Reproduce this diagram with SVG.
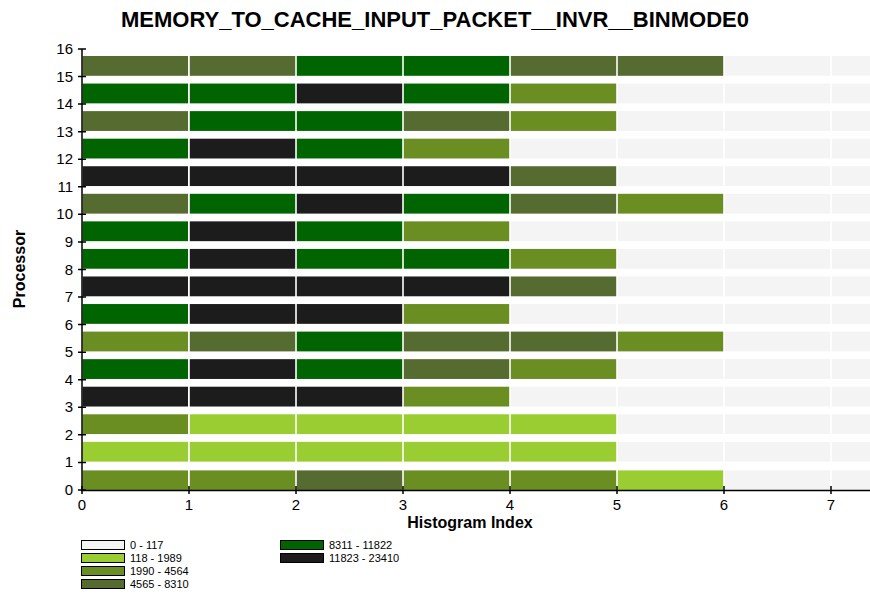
<svg xmlns="http://www.w3.org/2000/svg" width="870" height="594" viewBox="0 0 870 594">
<style>
text{font-family:"Liberation Sans",Arial,sans-serif;fill:#000}
.t{font-size:22px;font-weight:bold}
.lab{font-size:16px;font-weight:bold}
.tk{font-size:15px}
.lg{font-size:11px}
.c0{fill:#f4f4f4}.c1{fill:#9acd32}.c2{fill:#6b8e23}.c3{fill:#556b2f}.c4{fill:#006400}.c5{fill:#1c1c1c}
.ax{stroke:#000;stroke-width:1.5;fill:none}
.lb{stroke:#000;stroke-width:1}
</style>
<defs>
<rect id="cell" width="105.4" height="19.8"/>
</defs>
<rect width="870" height="594" fill="#fff"/>
<text class="t" x="435" y="27" text-anchor="middle">MEMORY_TO_CACHE_INPUT_PACKET__INVR__BINMODE0</text>
<g id="bars">
<!-- row 15 y=56 -->
<g id="row15" transform="translate(0,56)">
<use href="#cell" x="82.6" class="c3"/><use href="#cell" x="189.8" class="c3"/><use href="#cell" x="296.8" class="c4"/><use href="#cell" x="403.8" class="c4"/><use href="#cell" x="510.8" class="c3"/><use href="#cell" x="617.8" class="c3"/><use href="#cell" x="724.8" class="c0"/><rect x="831.8" width="38.2" height="19.8" class="c0"/>
</g>
<g id="row14" transform="translate(0,83.56)">
<use href="#cell" x="82.6" class="c4"/><use href="#cell" x="189.8" class="c4"/><use href="#cell" x="296.8" class="c5"/><use href="#cell" x="403.8" class="c4"/><use href="#cell" x="510.8" class="c2"/><use href="#cell" x="617.8" class="c0"/><use href="#cell" x="724.8" class="c0"/><rect x="831.8" width="38.2" height="19.8" class="c0"/>
</g>
<g id="row13" transform="translate(0,111.12)">
<use href="#cell" x="82.6" class="c3"/><use href="#cell" x="189.8" class="c4"/><use href="#cell" x="296.8" class="c4"/><use href="#cell" x="403.8" class="c3"/><use href="#cell" x="510.8" class="c2"/><use href="#cell" x="617.8" class="c0"/><use href="#cell" x="724.8" class="c0"/><rect x="831.8" width="38.2" height="19.8" class="c0"/>
</g>
<g id="row12" transform="translate(0,138.68)">
<use href="#cell" x="82.6" class="c4"/><use href="#cell" x="189.8" class="c5"/><use href="#cell" x="296.8" class="c4"/><use href="#cell" x="403.8" class="c2"/><use href="#cell" x="510.8" class="c0"/><use href="#cell" x="617.8" class="c0"/><use href="#cell" x="724.8" class="c0"/><rect x="831.8" width="38.2" height="19.8" class="c0"/>
</g>
<g id="row11" transform="translate(0,166.24)">
<use href="#cell" x="82.6" class="c5"/><use href="#cell" x="189.8" class="c5"/><use href="#cell" x="296.8" class="c5"/><use href="#cell" x="403.8" class="c5"/><use href="#cell" x="510.8" class="c3"/><use href="#cell" x="617.8" class="c0"/><use href="#cell" x="724.8" class="c0"/><rect x="831.8" width="38.2" height="19.8" class="c0"/>
</g>
<g id="row10" transform="translate(0,193.8)">
<use href="#cell" x="82.6" class="c3"/><use href="#cell" x="189.8" class="c4"/><use href="#cell" x="296.8" class="c5"/><use href="#cell" x="403.8" class="c4"/><use href="#cell" x="510.8" class="c3"/><use href="#cell" x="617.8" class="c2"/><use href="#cell" x="724.8" class="c0"/><rect x="831.8" width="38.2" height="19.8" class="c0"/>
</g>
<g id="row9" transform="translate(0,221.36)">
<use href="#cell" x="82.6" class="c4"/><use href="#cell" x="189.8" class="c5"/><use href="#cell" x="296.8" class="c4"/><use href="#cell" x="403.8" class="c2"/><use href="#cell" x="510.8" class="c0"/><use href="#cell" x="617.8" class="c0"/><use href="#cell" x="724.8" class="c0"/><rect x="831.8" width="38.2" height="19.8" class="c0"/>
</g>
<g id="row8" transform="translate(0,248.92)">
<use href="#cell" x="82.6" class="c4"/><use href="#cell" x="189.8" class="c5"/><use href="#cell" x="296.8" class="c4"/><use href="#cell" x="403.8" class="c4"/><use href="#cell" x="510.8" class="c2"/><use href="#cell" x="617.8" class="c0"/><use href="#cell" x="724.8" class="c0"/><rect x="831.8" width="38.2" height="19.8" class="c0"/>
</g>
<g id="row7" transform="translate(0,276.48)">
<use href="#cell" x="82.6" class="c5"/><use href="#cell" x="189.8" class="c5"/><use href="#cell" x="296.8" class="c5"/><use href="#cell" x="403.8" class="c5"/><use href="#cell" x="510.8" class="c3"/><use href="#cell" x="617.8" class="c0"/><use href="#cell" x="724.8" class="c0"/><rect x="831.8" width="38.2" height="19.8" class="c0"/>
</g>
<g id="row6" transform="translate(0,304.04)">
<use href="#cell" x="82.6" class="c4"/><use href="#cell" x="189.8" class="c5"/><use href="#cell" x="296.8" class="c5"/><use href="#cell" x="403.8" class="c2"/><use href="#cell" x="510.8" class="c0"/><use href="#cell" x="617.8" class="c0"/><use href="#cell" x="724.8" class="c0"/><rect x="831.8" width="38.2" height="19.8" class="c0"/>
</g>
<g id="row5" transform="translate(0,331.6)">
<use href="#cell" x="82.6" class="c2"/><use href="#cell" x="189.8" class="c3"/><use href="#cell" x="296.8" class="c4"/><use href="#cell" x="403.8" class="c3"/><use href="#cell" x="510.8" class="c3"/><use href="#cell" x="617.8" class="c2"/><use href="#cell" x="724.8" class="c0"/><rect x="831.8" width="38.2" height="19.8" class="c0"/>
</g>
<g id="row4" transform="translate(0,359.16)">
<use href="#cell" x="82.6" class="c4"/><use href="#cell" x="189.8" class="c5"/><use href="#cell" x="296.8" class="c4"/><use href="#cell" x="403.8" class="c3"/><use href="#cell" x="510.8" class="c2"/><use href="#cell" x="617.8" class="c0"/><use href="#cell" x="724.8" class="c0"/><rect x="831.8" width="38.2" height="19.8" class="c0"/>
</g>
<g id="row3" transform="translate(0,386.72)">
<use href="#cell" x="82.6" class="c5"/><use href="#cell" x="189.8" class="c5"/><use href="#cell" x="296.8" class="c5"/><use href="#cell" x="403.8" class="c2"/><use href="#cell" x="510.8" class="c0"/><use href="#cell" x="617.8" class="c0"/><use href="#cell" x="724.8" class="c0"/><rect x="831.8" width="38.2" height="19.8" class="c0"/>
</g>
<g id="row2" transform="translate(0,414.28)">
<use href="#cell" x="82.6" class="c2"/><use href="#cell" x="189.8" class="c1"/><use href="#cell" x="296.8" class="c1"/><use href="#cell" x="403.8" class="c1"/><use href="#cell" x="510.8" class="c1"/><use href="#cell" x="617.8" class="c0"/><use href="#cell" x="724.8" class="c0"/><rect x="831.8" width="38.2" height="19.8" class="c0"/>
</g>
<g id="row1" transform="translate(0,441.84)">
<use href="#cell" x="82.6" class="c1"/><use href="#cell" x="189.8" class="c1"/><use href="#cell" x="296.8" class="c1"/><use href="#cell" x="403.8" class="c1"/><use href="#cell" x="510.8" class="c1"/><use href="#cell" x="617.8" class="c0"/><use href="#cell" x="724.8" class="c0"/><rect x="831.8" width="38.2" height="19.8" class="c0"/>
</g>
<g id="row0" transform="translate(0,470.4)">
<use href="#cell" x="82.6" class="c2"/><use href="#cell" x="189.8" class="c2"/><use href="#cell" x="296.8" class="c3"/><use href="#cell" x="403.8" class="c2"/><use href="#cell" x="510.8" class="c2"/><use href="#cell" x="617.8" class="c1"/><use href="#cell" x="724.8" class="c0"/><rect x="831.8" width="38.2" height="19.8" class="c0"/>
</g>
</g>
<g id="axes">
<path class="ax" d="M82,49V490.5H870"/>
<path class="ax" d="M78,49H86M78,76.56H86M78,104.12H86M78,131.68H86M78,159.24H86M78,186.8H86M78,214.36H86M78,241.92H86M78,269.48H86M78,297.04H86M78,324.6H86M78,352.16H86M78,379.72H86M78,407.28H86M78,434.84H86M78,462.4H86M78,490H86"/>
<path class="ax" d="M82,486V494M189,486V494M296,486V494M403,486V494M510,486V494M617,486V494M724,486V494M831,486V494"/>
<g class="tk" text-anchor="end">
<text x="73" y="54">16</text><text x="73" y="81.5">15</text><text x="73" y="109">14</text><text x="73" y="136.5">13</text><text x="73" y="164">12</text><text x="73" y="191.5">11</text><text x="73" y="219">10</text><text x="73" y="247">9</text><text x="73" y="274.5">8</text><text x="73" y="302">7</text><text x="73" y="329.5">6</text><text x="73" y="357">5</text><text x="73" y="384.5">4</text><text x="73" y="412">3</text><text x="73" y="439.5">2</text><text x="73" y="467">1</text><text x="73" y="495">0</text>
</g>
<g class="tk" text-anchor="middle">
<text x="82" y="510">0</text><text x="189" y="510">1</text><text x="296" y="510">2</text><text x="403" y="510">3</text><text x="510" y="510">4</text><text x="617" y="510">5</text><text x="724" y="510">6</text><text x="831" y="510">7</text>
</g>
<text class="lab" x="470" y="528" text-anchor="middle">Histogram Index</text>
<text class="lab" transform="translate(25,269) rotate(-90)" text-anchor="middle">Processor</text>
</g>
<g id="legend">
<rect class="lb c0" x="81.5" y="540.5" width="43" height="9"/><text class="lg" x="130" y="549">0 - 117</text>
<rect class="lb c1" x="81.5" y="553.5" width="43" height="9"/><text class="lg" x="130" y="562">118 - 1989</text>
<rect class="lb c2" x="81.5" y="566.5" width="43" height="9"/><text class="lg" x="130" y="575">1990 - 4564</text>
<rect class="lb c3" x="81.5" y="579.5" width="43" height="9"/><text class="lg" x="130" y="588">4565 - 8310</text>
<rect class="lb c4" x="280.5" y="540.5" width="43" height="9"/><text class="lg" x="329" y="549">8311 - 11822</text>
<rect class="lb c5" x="280.5" y="553.5" width="43" height="9"/><text class="lg" x="329" y="562">11823 - 23410</text>
</g>
</svg>
